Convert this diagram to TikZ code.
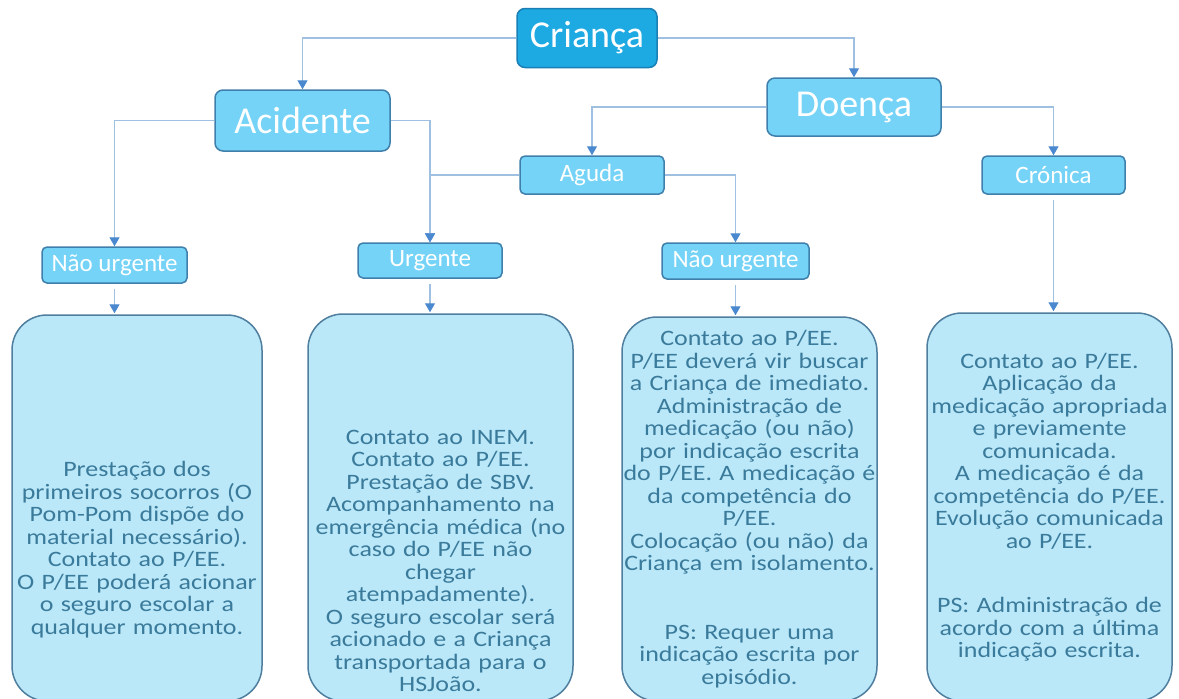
\documentclass[tikz,border=0pt]{standalone}
\usepackage{fontspec}
\setmainfont{Carlito}
\newfontfamily\boxfont[FakeStretch=1.18]{Carlito}
\usetikzlibrary{arrows.meta}
\definecolor{lineC}{HTML}{9FC0E0}
\definecolor{tipC}{HTML}{4A88CF}
\definecolor{topFill}{HTML}{1DA9E2}
\definecolor{topDraw}{HTML}{1A7FB5}
\definecolor{midFill}{HTML}{74D3F6}
\definecolor{midDraw}{HTML}{3F7FAB}
\definecolor{bigFill}{HTML}{BAE8F9}
\definecolor{bigDraw}{HTML}{4F7E9E}
\definecolor{txtC}{HTML}{3A7A9A}
\begin{document}
\begin{tikzpicture}[x=1pt,y=-1pt,
  rootbox/.style={draw=topDraw, fill=topFill, line width=1.5pt, rounded corners=8pt,
    text=white, font=\fontsize{38}{40}\selectfont, inner sep=0pt},
  catbox/.style={draw=midDraw, fill=midFill, line width=1.5pt, rounded corners=8pt,
    text=white, font=\fontsize{38}{40}\selectfont, inner sep=0pt},
  subbox/.style={draw=midDraw, fill=midFill, line width=1.5pt, rounded corners=5pt,
    text=white, font=\fontsize{25}{27}\selectfont, inner sep=0pt},
  bigbox/.style={draw=bigDraw, fill=bigFill, line width=1.5pt, rounded corners=35pt,
    text=txtC, font=\boxfont\fontsize{22}{22.5}\selectfont, align=center, inner sep=0pt},
  conn/.style={draw=lineC, line width=1.3pt, -{Triangle[width=10pt,length=9pt,color=tipC]}},
  down/.style={conn, shorten <=5pt, shorten >=1pt}
]
\useasboundingbox (0,0) rectangle (1179,699);

\node[rootbox, minimum width=140pt, minimum height=59pt] (crianca) at (587,38) {Criança};
\node[catbox, minimum width=175pt, minimum height=61pt] (acidente) at (302.5,120.5) {Acidente};
\node[catbox, minimum width=174pt, minimum height=58pt] (doenca) at (854,107) {Doença};
\node[subbox, minimum width=144pt, minimum height=38pt] (aguda) at (592,175) {Aguda};
\node[subbox, minimum width=143pt, minimum height=38pt] (cronica) at (1053.5,175) {Crónica};
\node[subbox, minimum width=145pt, minimum height=36pt] (nu1) at (114.5,265) {Não urgente};
\node[subbox, minimum width=144pt, minimum height=35pt] (urg) at (430,260.5) {Urgente};
\node[subbox, minimum width=147pt, minimum height=36pt] (nu2) at (735.5,261) {Não urgente};

\node[bigbox, text width=250pt, minimum height=386pt] (box1) at (137,508)
  {\rule{0pt}{99pt}Prestação dos\\ primeiros socorros (O\\ Pom-Pom dispõe do\\ material necessário).\\
   Contato ao P/EE.\\ O P/EE poderá acionar\\ o seguro escolar a\\ qualquer momento.};
\node[bigbox, text width=265pt, minimum height=387pt] (box2) at (440.5,507.5)
  {\rule{0pt}{121pt}Contato ao INEM.\\ Contato ao P/EE.\\ Prestação de SBV.\\ Acompanhamento na\\
   emergência médica (no\\ caso do P/EE não\\ chegar\\ atempadamente).\\ O seguro escolar será\\
   acionado e a Criança\\ transportada para o\\ HSJoão.};
\node[bigbox, text width=255pt, minimum height=384pt] (box3) at (749.5,509)
  {Contato ao P/EE.\\ P/EE deverá vir buscar\\ a Criança de imediato.\\ Administração de\\
   medicação (ou não)\\ por indicação escrita\\ do P/EE. A medicação é\\ da competência do\\ P/EE.\\
   Colocação (ou não) da\\ Criança em isolamento.\\[46pt] PS: Requer uma\\ indicação escrita por\\ episódio.};
\node[bigbox, text width=245pt, minimum height=388pt] (box4) at (1049.5,507)
  {Contato ao P/EE.\\ Aplicação da\\ medicação apropriada\\ e previamente\\ comunicada.\\
   A medicação é da\\ competência do P/EE.\\ Evolução comunicada\\ ao P/EE.\\[42pt]
   PS: Administração de\\ acordo com a última\\ indicação escrita.};

\draw[conn] (crianca.west) -| (acidente.north);
\draw[conn] (crianca.east) -| (doenca.north);
\draw[conn] (acidente.west) -| (nu1.north);
\draw[conn] (acidente.east) -| (urg.north);
\draw[conn] (aguda.west) -| (urg.north);
\draw[conn] (doenca.west) -| (aguda.north);
\draw[conn] (doenca.east) -| (cronica.north);
\draw[conn] (aguda.east) -| (nu2.north);
\draw[down] (nu1.south) -- (nu1.south |- box1.north);
\draw[down] (urg.south) -- (urg.south |- box2.north);
\draw[down] (nu2.south) -- (nu2.south |- box3.north);
\draw[down] (cronica.south) -- (cronica.south |- box4.north);
\end{tikzpicture}
\end{document}
